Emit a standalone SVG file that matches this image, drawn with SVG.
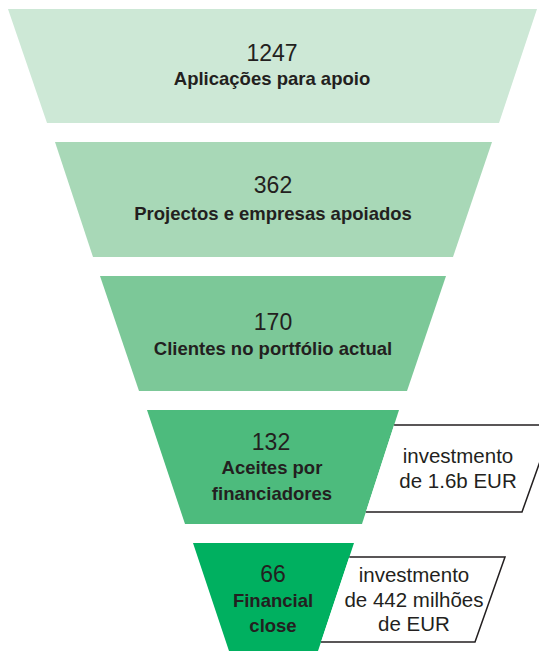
<svg xmlns="http://www.w3.org/2000/svg" width="539" height="651" viewBox="0 0 539 651">
<style>
.num{font-family:"Liberation Sans",Arial,sans-serif;font-size:23px;fill:#231f20;text-anchor:middle}
.lbl{font-family:"Liberation Sans",Arial,sans-serif;font-size:18.5px;font-weight:bold;fill:#231f20;text-anchor:middle}
.note{font-family:"Liberation Sans",Arial,sans-serif;font-size:20.5px;fill:#231f20;text-anchor:middle}
.box{fill:#ffffff;stroke:#231f20;stroke-width:1.5;stroke-linejoin:miter}
</style>
<rect width="539" height="651" fill="#ffffff"/>
<g id="stage1">
<polygon points="8,9 537,9 499,123 47,123" fill="#cde8d6"/>
<text class="num" x="272" y="61">1247</text>
<text class="lbl" x="272" y="85">Aplicações para apoio</text>
</g>
<g id="stage2">
<polygon points="55,142 492,142 453,257 93,257" fill="#a8d8b7"/>
<text class="num" x="273" y="193">362</text>
<text class="lbl" x="273" y="220">Projectos e empresas apoiados</text>
</g>
<g id="stage3">
<polygon points="100,276 446,276 407,391 139,391" fill="#7cc898"/>
<text class="num" x="273" y="330">170</text>
<text class="lbl" x="273" y="355">Clientes no portfólio actual</text>
</g>
<g id="stage4">
<polygon points="147,410 399,410 362,524 185,524" fill="#4dbb7d"/>
<text class="num" x="271" y="450">132</text>
<text class="lbl" x="272" y="474">Aceites por</text>
<text class="lbl" x="272" y="500">financiadores</text>
</g>
<g id="stage5">
<polygon points="193,543 354,543 318,651 229,651" fill="#00b060"/>
<text class="num" x="273" y="582">66</text>
<text class="lbl" x="273" y="607">Financial</text>
<text class="lbl" x="273" y="632">close</text>
</g>
<g id="note1">
<path class="box" d="M394.1,425 H553 L522,512 H365.9"/>
<text class="note" x="458" y="463">investmento</text>
<text class="note" x="458" y="488">de 1.6b EUR</text>
</g>
<g id="note2">
<path class="box" d="M349.3,557 H505 L475,642 H321"/>
<text class="note" x="414" y="582">investmento</text>
<text class="note" x="414" y="607">de 442 milhões</text>
<text class="note" x="414" y="631">de EUR</text>
</g>
<g id="connectors"></g>
</svg>
